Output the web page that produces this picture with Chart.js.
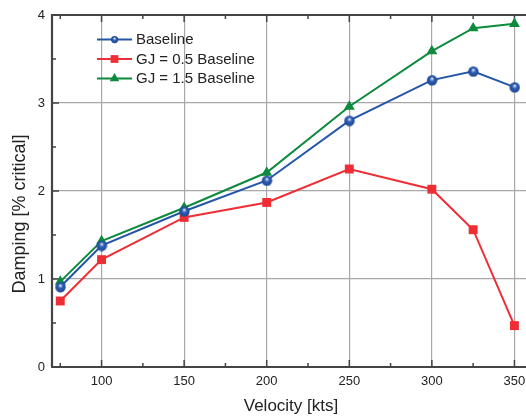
<!DOCTYPE html>
<html>
<head>
<meta charset="utf-8">
<script src="https://cdn.jsdelivr.net/npm/chart.js@4.4.1/dist/chart.umd.min.js"></script>
<style>
  html, body { margin: 0; padding: 0; background: #fff; }
  #wrap { width: 526px; height: 416px; }
</style>
</head>
<body>
<div id="wrap"><canvas id="chart" width="526" height="416"></canvas></div>
<script>
// velocity points [kts]
const velocity = [75, 100, 150, 200, 250, 300, 325, 350];

// damping [% critical]
const baseline = [0.91, 1.38, 1.77, 2.12, 2.80, 3.26, 3.36, 3.18];
const gjHalf   = [0.75, 1.22, 1.70, 1.87, 2.25, 2.02, 1.56, 0.47];
const gjOneHalf = [0.97, 1.43, 1.81, 2.21, 2.96, 3.59, 3.85, 3.90];

const xTicks = [100, 150, 200, 250, 300, 350];
const xMinor = [75, 125, 175, 225, 275, 325];
const yTicks = [0, 1, 2, 3, 4];
const yMinor = [0.5, 1.5, 2.5, 3.5];

const FONT = '"Liberation Sans", Arial, Helvetica, sans-serif';
const BLUE = '#2456a8', RED = '#ee2e34', GREEN = '#0d8a3e';

// shaded ball marker like the original
function ball(r) {
  const c = document.createElement('canvas');
  const s = r * 2 + 2;
  c.width = s; c.height = s;
  const g = c.getContext('2d');
  const grad = g.createRadialGradient(s / 2, s / 2 - r * 0.35, 0.2, s / 2, s / 2, r);
  grad.addColorStop(0, '#f4f6fb');
  grad.addColorStop(0.22, '#7f9fd6');
  grad.addColorStop(0.45, '#2d5cb0');
  grad.addColorStop(1, '#1d4796');
  g.fillStyle = grad;
  g.beginPath();
  g.arc(s / 2, s / 2, r, 0, Math.PI * 2);
  g.fill();
  return c;
}
const ballImg = ball(5.2);
const ballSmall = ball(3.6);

const pts = arr => velocity.map((v, i) => ({ x: v, y: arr[i] }));

const frame = {
  id: 'frame',
  beforeDatasetsDraw(chart) {
    const { ctx, chartArea: a, scales: { x, y } } = chart;
    ctx.save();
    ctx.strokeStyle = '#444';
    ctx.lineWidth = 1.5;
    ctx.beginPath();
    const tick = (px, len) => {
      ctx.moveTo(px, a.bottom); ctx.lineTo(px, a.bottom - len);
      ctx.moveTo(px, a.top); ctx.lineTo(px, a.top + len);
    };
    xTicks.forEach(v => tick(x.getPixelForValue(v), 7));
    xMinor.forEach(v => tick(x.getPixelForValue(v), 4));
    yTicks.forEach(v => { const py = y.getPixelForValue(v); ctx.moveTo(a.left, py); ctx.lineTo(a.left + 7, py); });
    yMinor.forEach(v => { const py = y.getPixelForValue(v); ctx.moveTo(a.left, py); ctx.lineTo(a.left + 4, py); });
    ctx.stroke();
    ctx.lineWidth = 2.2;
    ctx.beginPath();
    ctx.moveTo(a.left, a.top); ctx.lineTo(a.left, a.bottom);
    ctx.moveTo(a.left - 1, a.bottom); ctx.lineTo(a.right, a.bottom);
    ctx.moveTo(a.left - 1, a.top); ctx.lineTo(a.right, a.top);
    ctx.stroke();
    ctx.restore();
  },
  afterDraw(chart) {
    const { ctx } = chart;
    ctx.save();
    ctx.fillStyle = '#222';
    ctx.textAlign = 'center';
    ctx.textBaseline = 'middle';
    ctx.font = '17px ' + FONT;
    ctx.fillText('Velocity [kts]', 291, 406);
    ctx.translate(20, 214);
    ctx.rotate(-Math.PI / 2);
    ctx.font = '18px ' + FONT;
    ctx.fillText('Damping [% critical]', 0, 0);
    ctx.restore();

    // legend inside the plot
    ctx.save();
    ctx.font = '15px ' + FONT;
    ctx.textBaseline = 'middle';
    chart.data.datasets.forEach((ds, i) => {
      const yy = 39.5 + i * 19.5;
      ctx.strokeStyle = ds.borderColor;
      ctx.lineWidth = 2;
      ctx.beginPath();
      ctx.moveTo(97, yy); ctx.lineTo(132, yy);
      ctx.stroke();
      ctx.fillStyle = ds.pointBackgroundColor;
      ctx.strokeStyle = ds.pointBackgroundColor;
      Chart.helpers.drawPoint(ctx, {
        pointStyle: ds.legendStyle || ds.pointStyle, radius: ds.legendRadius, borderWidth: 0, rotation: 0
      }, 114.5, yy);
      ctx.fillStyle = '#222';
      ctx.fillText(ds.label, 136, yy + 0.5);
    });
    ctx.restore();
  }
};

new Chart(document.getElementById('chart'), {
  type: 'scatter',
  data: {
    datasets: [
      {
        label: 'Baseline', data: pts(baseline), showLine: true,
        borderColor: BLUE, borderWidth: 2, pointStyle: ballImg, legendStyle: ballSmall,
        pointBackgroundColor: BLUE, pointRadius: 5, legendRadius: 3
      },
      {
        label: 'GJ = 0.5 Baseline', data: pts(gjHalf), showLine: true,
        borderColor: RED, borderWidth: 2, pointStyle: 'rect',
        pointBackgroundColor: RED, pointBorderWidth: 0, pointRadius: 6.3, legendRadius: 5.5
      },
      {
        label: 'GJ = 1.5 Baseline', data: pts(gjOneHalf), showLine: true,
        borderColor: GREEN, borderWidth: 2, pointStyle: 'triangle',
        pointBackgroundColor: GREEN, pointBorderWidth: 0, pointRadius: 6.3, legendRadius: 5.5
      }
    ]
  },
  options: {
    responsive: false,
    animation: false,
    layout: { autoPadding: false, padding: { top: 15, right: 0, left: 0, bottom: 0 } },
    plugins: { legend: { display: false }, tooltip: { enabled: false } },
    elements: { line: { tension: 0 }, point: { hoverRadius: 6 } },
    scales: {
      x: {
        type: 'linear', min: 70, max: 357,
        afterBuildTicks: s => { s.ticks = xTicks.map(v => ({ value: v })); },
        afterFit: s => { s.height = 49; s.paddingLeft = 0; s.paddingRight = 0; },
        border: { display: false },
        grid: { color: '#a8a8a8', lineWidth: 1.2, drawTicks: false },
        ticks: { padding: 7, color: '#222', font: { family: FONT, size: 13 }, maxRotation: 0 }
      },
      y: {
        min: 0, max: 4,
        afterBuildTicks: s => { s.ticks = yTicks.map(v => ({ value: v })); },
        afterFit: s => { s.width = 52; s.paddingTop = 0; s.paddingBottom = 0; },
        border: { display: false },
        grid: { color: '#a8a8a8', lineWidth: 1.2, drawTicks: false },
        ticks: { padding: 7, color: '#222', font: { family: FONT, size: 13 } }
      }
    }
  },
  plugins: [frame]
});
</script>
</body>
</html>
